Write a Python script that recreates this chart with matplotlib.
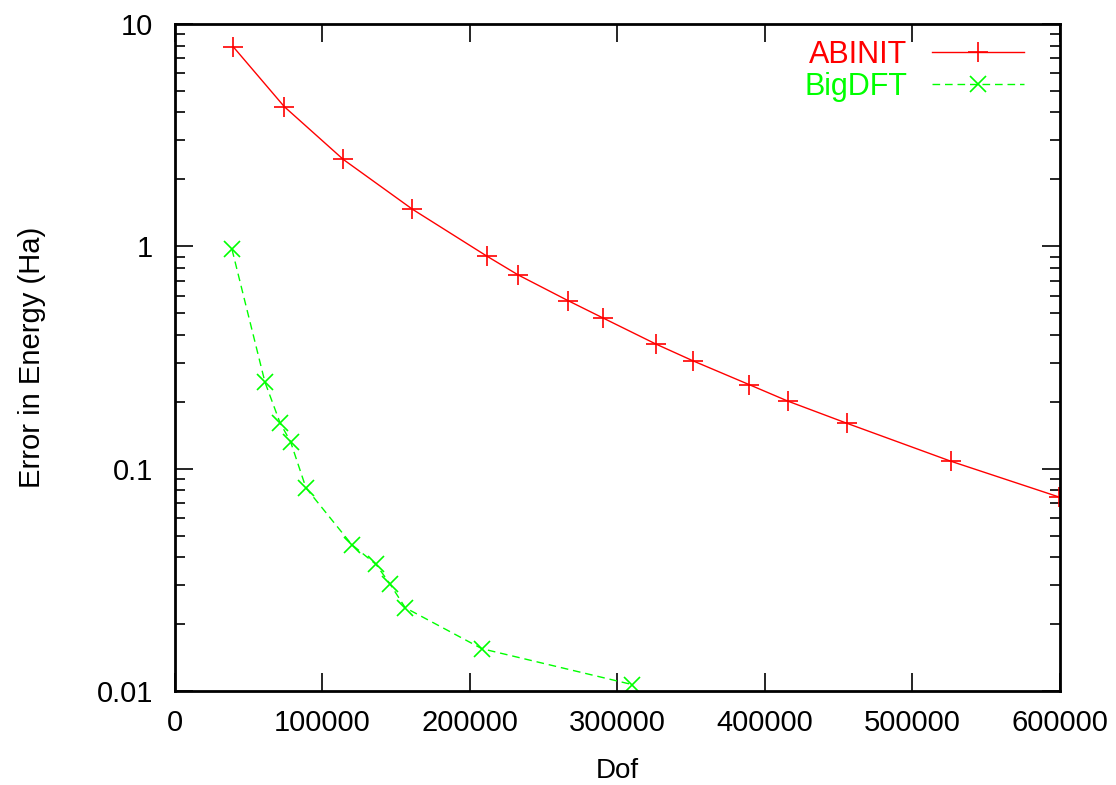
import numpy as np
import matplotlib
matplotlib.use("Agg")
import matplotlib.pyplot as plt
from matplotlib.ticker import FixedLocator, NullFormatter

plt.rcParams['font.family'] = ['Liberation Sans', 'DejaVu Sans']

# data
abinit_dof = [39500, 74100, 114100, 160900, 211300, 232800, 266700, 290000,
              325900, 351000, 389200, 415800, 455600, 526100, 599600]
abinit_err = [7.9, 4.25, 2.46, 1.47, 0.905, 0.743, 0.569, 0.477,
              0.364, 0.306, 0.239, 0.201, 0.160, 0.108, 0.0745]

bigdft_dof = [38650, 61000, 71200, 78400, 88800, 119800, 136300, 145800,
              156100, 208100, 309800]
bigdft_err = [0.969, 0.245, 0.161, 0.132, 0.082, 0.0456, 0.0371, 0.0303,
              0.0237, 0.0155, 0.0107]

xticks = [0, 100000, 200000, 300000, 400000, 500000, 600000]
yticks = [0.01, 0.1, 1, 10]
ytick_labels = ['0.01', '0.1', '1', '10']

red = '#ff0000'
green = '#00ff00'

fig = plt.figure(figsize=(11.16, 7.85), dpi=100)
ax = fig.add_axes([0.1568, 0.1197, 0.7930, 0.8497])

ax.plot(abinit_dof, abinit_err, color=red, lw=1.0, marker='+',
        markersize=14, markeredgewidth=1.2, label='ABINIT')
ax.plot(bigdft_dof, bigdft_err, color=green, lw=1.0, marker='x',
        markersize=11, markeredgewidth=1.2, dashes=(5.5, 3.5), label='BigDFT')

ax.set_yscale('log')
ax.set_xlim(0, 600000)
ax.set_ylim(0.01, 10)

ax.xaxis.set_major_locator(FixedLocator(xticks))
ax.set_xticklabels([str(t) for t in xticks])
ax.yaxis.set_major_locator(FixedLocator(yticks))
ax.set_yticklabels(ytick_labels)
minors = [m * 10.0 ** e for e in (-2, -1, 0) for m in range(2, 10)]
ax.yaxis.set_minor_locator(FixedLocator(minors))
ax.yaxis.set_minor_formatter(NullFormatter())

ax.tick_params(which='major', direction='in', top=True, right=True,
               length=13, width=1.2, labelsize=21, color='black')
ax.tick_params(axis='x', which='major', pad=13)
ax.tick_params(axis='y', which='major', pad=16)
ax.tick_params(which='minor', direction='in', top=False, right=True,
               length=7, width=1.2)
ax.tick_params(axis='x', which='minor', bottom=False, top=False)

for s in ax.spines.values():
    s.set_linewidth(2)

ax.set_xlabel('Dof', fontsize=20, labelpad=15)
ax.set_ylabel('Error in Energy (Ha)', fontsize=21, labelpad=36)

leg = ax.legend(loc='upper right', frameon=False, markerfirst=False,
                fontsize=22, numpoints=1, handlelength=3.0,
                handletextpad=0.8, labelspacing=0.05,
                bbox_to_anchor=(0.99, 1.017))
for txt, c in zip(leg.get_texts(), [red, green]):
    txt.set_color(c)

fig.savefig('out.png', dpi=100)
